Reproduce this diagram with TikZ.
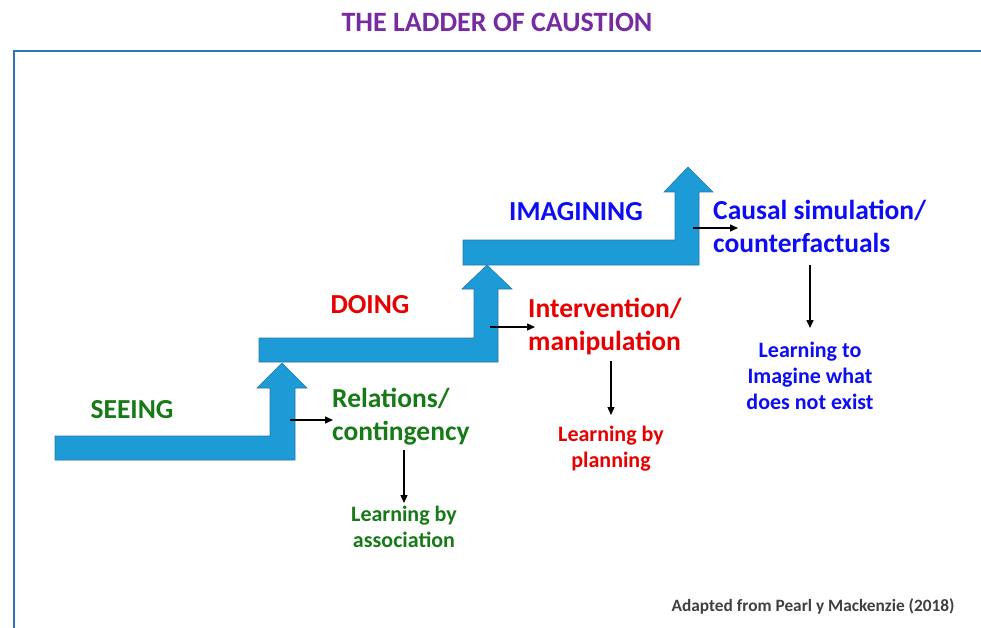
\documentclass[tikz,border=0pt]{standalone}
\usepackage{fontspec}
\setmainfont{Carlito}
\usetikzlibrary{positioning,arrows.meta}
\definecolor{stairblue}{RGB}{28,155,214}
\definecolor{stairedge}{RGB}{40,118,172}
\definecolor{framecol}{RGB}{46,117,182}
\definecolor{seegreen}{RGB}{22,122,22}
\definecolor{dored}{RGB}{232,0,0}
\definecolor{imagblue}{RGB}{12,12,245}
\definecolor{titlepurple}{RGB}{118,44,160}
\definecolor{notegray}{RGB}{64,64,64}

\begin{document}
\begin{tikzpicture}[x=1pt, y=-1pt,
    stair/.style={fill=stairblue, draw=stairedge, line width=0.6pt},
    rung/.style={font=\bfseries\fontsize{27.5}{33}\selectfont, inner sep=0pt},
    fact/.style={font=\bfseries\fontsize{27.5}{33}\selectfont, align=left, anchor=north west, inner sep=0pt},
    lesson/.style={font=\bfseries\fontsize{22}{26}\selectfont, align=center, anchor=north, inner sep=0pt},
    pointer/.style={-{Triangle[length=8pt,width=7pt]}, line width=1.4pt}]
  \useasboundingbox (0,0) rectangle (981,628);
  % frame and title
  \draw [framecol, line width=2pt] (14,628) -- (14,51) -- (981,51);
  \node[font=\bfseries\fontsize{28}{32}\selectfont, text=titlepurple] (title) at (497,22) {THE LADDER OF CAUSTION};

  % the three steps
  \draw [stair] (55,436) -- (270,436) -- (270,388) -- (257,388) -- (282,363) -- (307,388) -- (295,388) -- (295,460) -- (55,460) -- cycle;
  \draw [stair] (259,338) -- (474,338) -- (474,289) -- (462,289) -- (487,265) -- (512,289) -- (498,289) -- (498,362) -- (259,362) -- cycle;
  \draw [stair] (463,240) -- (675,240) -- (675,192) -- (664,192) -- (688,167) -- (713,192) -- (699,192) -- (699,265) -- (463,265) -- cycle;
  \coordinate (stem1) at (290,420);
  \coordinate (stem2) at (490,327);
  \coordinate (stem3) at (693,228);

  % rung names
  \node[rung, text=seegreen] (seeing) at (132,410) {SEEING};
  \node[rung, text=dored] (doing) at (370,305) {DOING};
  \node[rung, text=imagblue] (imagining) at (576,212) {IMAGINING};

  % what each rung gives
  \node[fact, text=seegreen] (relations) at (332,388) {Relations/\\contingency};
  \node[fact, text=dored] (intervention) at (528,298) {Intervention/\\manipulation};
  \node[fact, text=imagblue] (causal) at (713,200) {Causal simulation/\\counterfactuals};

  \node[lesson, text=seegreen] (assoc) at (404,506) {Learning by\\association};
  \node[lesson, text=dored] (planning) at (611,426) {Learning by\\planning};
  \node[lesson, text=imagblue] (imagine) at (810,342) {Learning to\\Imagine what\\does not exist};

  \draw [pointer] (stem1) -- ([xshift=1pt]stem1 -| relations.west);
  \draw [pointer] (stem2) -- ([xshift=7pt]stem2 -| intervention.west);
  \draw [pointer] (stem3) -- ([xshift=25pt]stem3 -| causal.west);
  \draw [pointer] ([yshift=-5pt]assoc.north |- relations.south) -- ([yshift=3pt]assoc.north);
  \draw [pointer] ([yshift=-6pt]planning.north |- intervention.south) -- ([yshift=11pt]planning.north);
  \draw [pointer] ([yshift=-12pt]imagine.north |- causal.south) -- ([yshift=14pt]imagine.north);

  \node[anchor=east, font=\bfseries\fontsize{17.3}{20}\selectfont, text=notegray] (source) at (958,606) {Adapted from Pearl y Mackenzie (2018)};
\end{tikzpicture}
\end{document}
